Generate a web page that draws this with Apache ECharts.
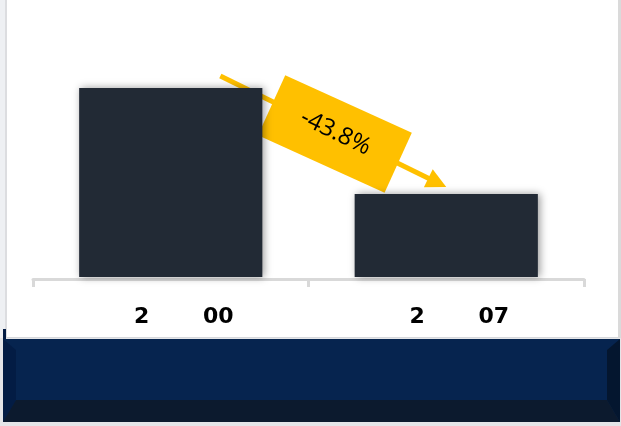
<!DOCTYPE html>
<html>
<head>
<meta charset="utf-8">
<script src="https://cdn.jsdelivr.net/npm/echarts@6/dist/echarts.min.js"></script>
<style>
  html, body { margin: 0; padding: 0; background: #ffffff; }
  #chart { width: 621px; height: 426px; }
</style>
</head>
<body>
<div id="chart"></div>
<script>
// Category labels as printed under the bars
const categories = ['2       00', '2       07'];
// Bar values
const values = [100, 56.2];
// Hidden value-axis range
const yMin = 22;
const yMax = 120;

const chart = echarts.init(document.getElementById('chart'), null, { renderer: 'canvas' });

// Page frame: grey side rules and the bevelled navy footer panel
const frame = [
  { type: 'rect', z: -10, shape: { x: 0, y: 0, width: 6, height: 338 }, style: { fill: '#eef0f3' } },
  { type: 'rect', z: -10, shape: { x: 5, y: 0, width: 2, height: 338 }, style: { fill: '#dcdde0' } },
  { type: 'rect', z: -10, shape: { x: 618, y: 0, width: 3, height: 338 }, style: { fill: '#dadada' } },
  { type: 'rect', z: -10, shape: { x: 7, y: 337, width: 611, height: 2 }, style: { fill: '#d6d8dc' } },
  { type: 'rect', z: -10, shape: { x: 0, y: 338, width: 621, height: 88 }, style: { fill: '#e4e5e8' } },
  { type: 'rect', z: -10, shape: { x: 3, y: 329, width: 3, height: 10 }, style: { fill: '#031c44' } },
  { type: 'rect', z: -9, shape: { x: 3, y: 339, width: 617, height: 83 }, style: { fill: '#06244f' } },
  { type: 'polygon', z: -8, shape: { points: [[3, 339], [16, 350], [16, 400], [3, 422]] }, style: { fill: '#031c44' } },
  { type: 'polygon', z: -8, shape: { points: [[620, 339], [607, 350], [607, 400], [620, 422]] }, style: { fill: '#04162f' } },
  { type: 'polygon', z: -8, shape: { points: [[3, 422], [16, 400], [607, 400], [620, 422]] }, style: { fill: '#0c1a2e' } }
];

chart.setOption({
  animation: false,
  grid: { left: 33, right: 37, top: 39.5, bottom: 149 },
  xAxis: {
    type: 'category',
    data: categories,
    offset: 2,
    axisLine: { lineStyle: { color: '#d9d9d9', width: 3 } },
    axisTick: { show: true, length: 8, lineStyle: { color: '#d9d9d9', width: 3 } },
    axisLabel: {
      fontFamily: 'DejaVu Sans',
      fontWeight: 'bold',
      fontSize: 22,
      color: '#000000',
      margin: 27,
      padding: [0, 0, 0, 26]
    }
  },
  yAxis: { type: 'value', min: yMin, max: yMax, show: false },
  series: [{
    type: 'bar',
    data: values,
    barWidth: '66.5%',
    itemStyle: {
      color: '#222a35',
      shadowBlur: 8,
      shadowColor: 'rgba(0,0,0,0.4)',
      shadowOffsetX: 2
    }
  }],
  graphic: frame
});

// Change annotation: arrow from the first bar down to the second, with a tag
const change = ((values[1] - values[0]) / values[0] * 100).toFixed(1) + '%';
const pA = chart.convertToPixel({ seriesIndex: 0 }, [0, values[0]]);
const pB = chart.convertToPixel({ seriesIndex: 0 }, [1, values[1]]);
const band = pB[0] - pA[0];
const start = [pA[0] + band * 0.18, pA[1] - 12];
const end = [pB[0], pB[1] - 7];
const dx = end[0] - start[0];
const dy = end[1] - start[1];
const len = Math.sqrt(dx * dx + dy * dy);
const angle = Math.atan2(dy, dx);
const yellow = '#ffc000';
const mid = len * 0.51;
const tagTilt = 1.8 * Math.PI / 180;

chart.setOption({
  graphic: frame.concat([{
    type: 'group',
    x: start[0],
    y: start[1],
    rotation: -angle,
    z: 100,
    children: [
      { type: 'line', shape: { x1: 0, y1: 0, x2: len - 16, y2: 0 }, style: { stroke: yellow, lineWidth: 5 } },
      { type: 'polygon', shape: { points: [[len, 0], [len - 20, -10], [len - 20, 10]] }, style: { fill: yellow } },
      {
        type: 'rect',
        x: mid,
        y: 1.5,
        rotation: tagTilt,
        shape: { x: -69.5, y: -33, width: 139, height: 66 },
        style: { fill: yellow }
      },
      {
        type: 'text',
        x: mid,
        y: 0,
        style: {
          text: change,
          fill: '#000000',
          font: '24px "Open Sans"',
          align: 'center',
          verticalAlign: 'middle'
        }
      }
    ]
  }])
});
</script>
</body>
</html>
